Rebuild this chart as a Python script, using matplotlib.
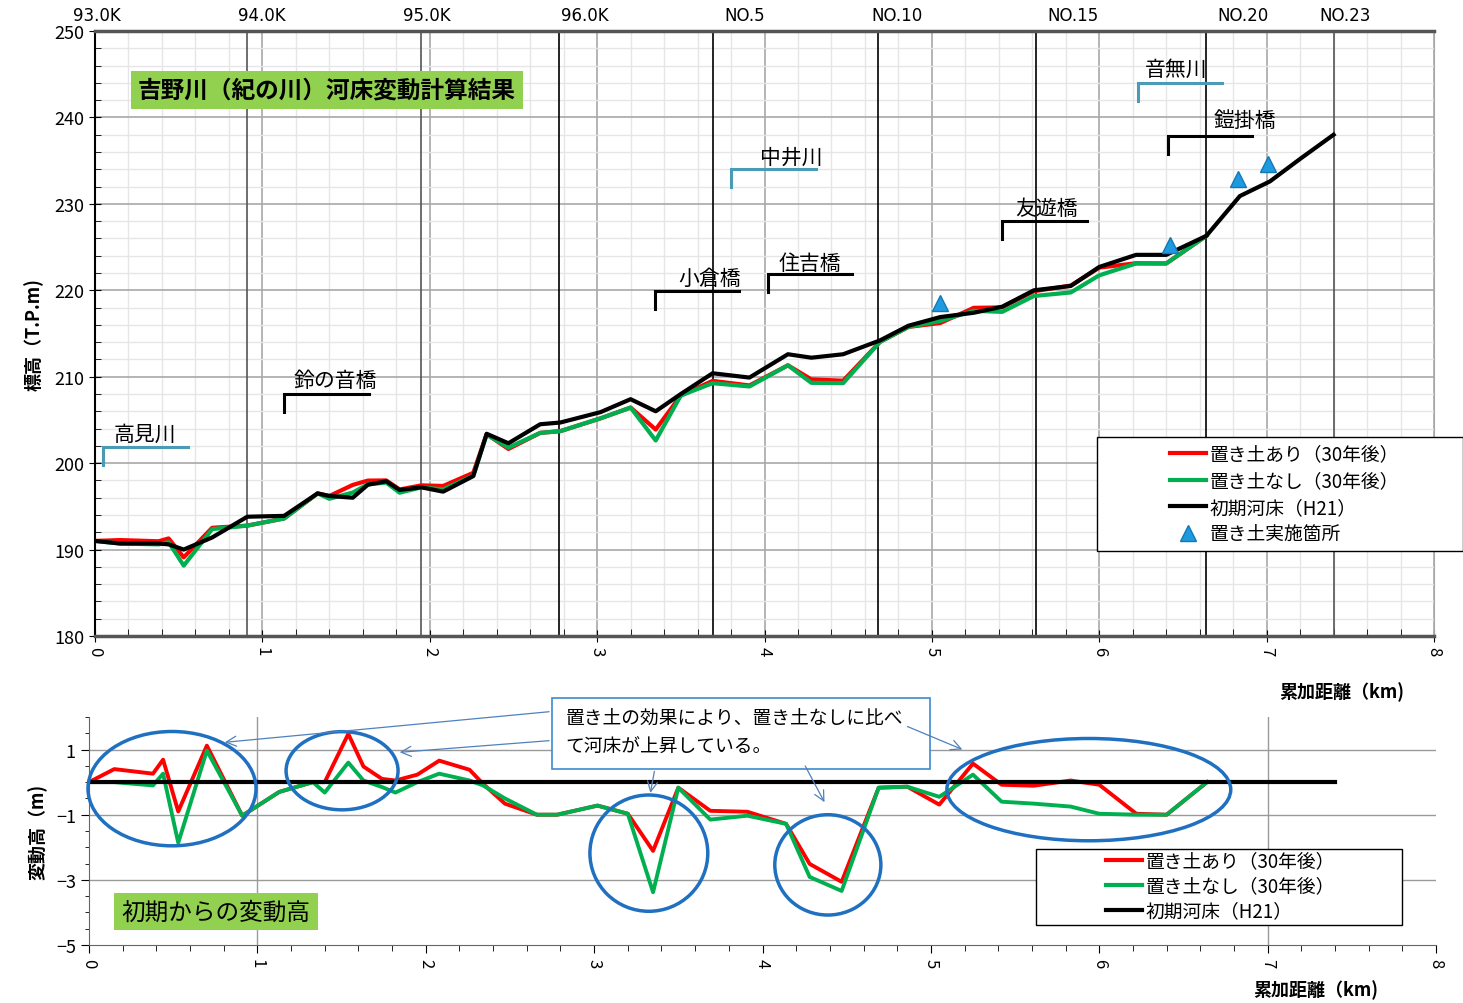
import numpy as np
import matplotlib.pyplot as plt
from matplotlib.patches import Ellipse, Rectangle
from matplotlib.lines import Line2D
from matplotlib.ticker import MultipleLocator

plt.rcParams['font.family'] = ['Noto Sans CJK JP', 'DejaVu Sans']

# cumulative distance of cross sections (km)
dist = [0.0, 0.15, 0.38, 0.44, 0.53, 0.70, 0.91, 1.13, 1.33, 1.40, 1.54, 1.63, 1.74, 1.82,
        1.95, 2.08, 2.26, 2.34, 2.47, 2.66, 2.78, 3.02, 3.20, 3.35, 3.50, 3.69, 3.91, 4.14,
        4.28, 4.47, 4.69, 4.86, 5.05, 5.25, 5.42, 5.61, 5.83, 6.00, 6.22, 6.40, 6.64,
        6.84, 7.02, 7.20, 7.40]
# initial bed elevation H21 (T.P.m)
bed_h21 = [191.0, 190.7, 190.7, 190.6, 190.0, 191.4, 193.8, 193.9, 196.5, 196.2, 196.0, 197.5,
           197.9, 196.9, 197.2, 196.7, 198.5, 203.4, 202.3, 204.5, 204.7, 205.9, 207.4, 206.0,
           208.0, 210.4, 209.9, 212.6, 212.2, 212.6, 214.2, 215.9, 216.9, 217.4, 218.1, 220.0,
           220.5, 222.7, 224.1, 224.1, 226.3, 230.9, 232.6, 235.2, 238.0]
# change after 30 years (m), up to 6.64 km
chg_with = [0.0, 0.40, 0.26, 0.69, -0.90, 1.12, -1.03, -0.30, 0.0, 0.0, 1.48, 0.48, 0.10, 0.05,
            0.23, 0.66, 0.38, -0.05, -0.66, -1.0, -1.0, -0.72, -0.97, -2.11, -0.17, -0.88, -0.91,
            -1.28, -2.51, -3.06, -0.17, -0.14, -0.69, 0.57, -0.08, -0.11, 0.05, -0.08, -0.97,
            -1.0, 0.0]
chg_without = [0.0, 0.0, -0.10, 0.26, -1.86, 0.97, -1.03, -0.30, 0.0, -0.32, 0.60, 0.05, -0.15,
               -0.32, 0.0, 0.26, 0.05, -0.10, -0.50, -1.0, -1.0, -0.72, -0.97, -3.38, -0.17,
               -1.15, -1.03, -1.28, -2.91, -3.34, -0.17, -0.14, -0.45, 0.23, -0.60, -0.66, -0.75,
               -0.97, -1.0, -1.0, 0.0]
# soil placement sites
site_x = [5.05, 6.42, 6.83, 7.01]
site_y = [218.5, 225.2, 232.9, 234.6]

# section lines and labels on top
sec_x = [0.91, 1.95, 2.77, 3.69, 4.68, 5.62, 6.64, 7.40]
sec_lbl_x = [0.012, 0.998, 1.983, 2.927, 3.883, 4.791, 5.842, 6.858, 7.467]
sec_lbl = ['93.0K', '94.0K', '95.0K', '96.0K', 'NO.5', 'NO.10', 'NO.15', 'NO.20', 'NO.23']

# bridges / tributaries
mark_names = ['高見川', '鈴の音橋', '小倉橋', '住吉橋', '中井川', '友遊橋', '音無川', '鎧掛橋']
mark_x = [0.048, 1.13, 3.345, 4.02, 3.80, 5.42, 6.23, 6.41]
mark_y = [201.9, 208.0, 219.9, 221.9, 234.0, 228.0, 244.0, 237.9]
mark_txt_x = [0.299, 1.434, 3.674, 4.271, 4.163, 5.687, 6.458, 6.870]
mark_txt_y = [203.4, 209.6, 221.4, 223.2, 235.5, 229.5, 245.6, 239.7]
mark_river = [True, False, False, False, True, False, True, False]

n = len(chg_with)
d = np.array(dist)
h = np.array(bed_h21)
red_top = h[:n] + np.array(chg_with)
green_top = h[:n] + np.array(chg_without)

RED = '#FF0000'
GREEN = '#00B050'
TEAL = '#4A9BB5'
BLUE = '#1F70C0'
W, H = 1463, 1004

fig = plt.figure(figsize=(14.63, 10.04), dpi=100)

# ---------------- top chart ----------------
ax = fig.add_axes([95 / W, 1 - 637 / H, 1339 / W, 605 / H])
ax.set_xlim(0, 8)
ax.set_ylim(180, 250)
ax.xaxis.set_major_locator(MultipleLocator(1))
ax.xaxis.set_minor_locator(MultipleLocator(0.2))
ax.yaxis.set_major_locator(MultipleLocator(10))
ax.yaxis.set_minor_locator(MultipleLocator(2))
ax.grid(which='minor', color='#E6E6E6', lw=1)
ax.grid(which='major', color='#A8A8A8', lw=1.2)
ax.set_axisbelow(True)
for s in ['top', 'bottom']:
    ax.spines[s].set_color('#555555')
    ax.spines[s].set_linewidth(2.5)
ax.spines['right'].set_color('#A8A8A8')
ax.spines['left'].set_color('black')
ax.spines['left'].set_linewidth(1.5)
ax.tick_params(axis='x', which='major', direction='inout', length=8, labelsize=12, labelrotation=-90)
ax.tick_params(axis='x', which='minor', direction='in', length=5)
ax.tick_params(axis='y', which='major', direction='inout', length=8, labelsize=13)
ax.tick_params(axis='y', which='minor', direction='in', length=4)

for i, xs in enumerate(sec_x):
    c = '#555555' if i in (0, 1, 7) else 'black'
    ax.axvline(xs, color=c, lw=1.2, zorder=1)
for xl, t in zip(sec_lbl_x, sec_lbl):
    ax.text(xl, 250.8, t, ha='center', va='bottom', fontsize=12,
            family=['Liberation Sans Narrow', 'DejaVu Sans'])

ax.plot(d[:n], red_top, color=RED, lw=3, zorder=3)
ax.plot(d[:n], green_top, color=GREEN, lw=3, zorder=4)
ax.plot(d, h, color='black', lw=3, zorder=5)
ax.plot(site_x, site_y, '^', color='#1E9BE0', mec='#1478B4', ms=11, ls='none', zorder=6)

for nm, mx, my, tx, ty, rv in zip(mark_names, mark_x, mark_y, mark_txt_x, mark_txt_y, mark_river):
    c = TEAL if rv else 'black'
    ax.plot([mx, mx, mx + 0.505], [my - 2.1, my, my], color=c, lw=2.2, zorder=6,
            solid_joinstyle='miter')
    ax.text(tx, ty, nm, ha='center', va='center', fontsize=15, zorder=7)

ax.text(1.386, 243.2, '吉野川（紀の川）河床変動計算結果', ha='center', va='center',
        fontsize=17, fontweight='bold', zorder=8,
        bbox=dict(boxstyle='square,pad=0.3', fc='#92D050', ec='none'))

ax.set_ylabel('標高（T.P.m)', fontsize=13, fontweight='bold', labelpad=8)
fig.text(1342 / W, 1 - 692 / H, '累加距離（km)', ha='center', va='center',
         fontsize=13, fontweight='bold')

# legend frame drawn separately so that it spans the original width
fig.patches.append(Rectangle((1097 / W, 1 - 552 / H), 366 / W, 114 / H, transform=fig.transFigure,
                             fc='white', ec='black', lw=1, zorder=5))
h1 = [Line2D([], [], color=RED, lw=3), Line2D([], [], color=GREEN, lw=3),
      Line2D([], [], color='black', lw=3),
      Line2D([], [], marker='^', color='#1E9BE0', mec='#1478B4', ms=11, ls='none')]
leg = fig.legend(h1, ['置き土あり（30年後）', '置き土なし（30年後）', '初期河床（H21）', '置き土実施箇所'],
                 loc='center left', bbox_to_anchor=(1170 / W, 1 - 495 / H),
                 fontsize=13.5, frameon=False, borderaxespad=0, borderpad=0,
                 handlelength=1.9, handletextpad=0.2, labelspacing=0.3)
leg.set_zorder(6)

# ---------------- bottom chart ----------------
bx = fig.add_axes([89 / W, 1 - 946 / H, 1347 / W, 228 / H])
bx.set_xlim(0, 8)
bx.set_ylim(-5, 2)
bx.set_xticks(range(9))
bx.xaxis.set_minor_locator(MultipleLocator(0.2))
bx.set_yticks([-5, -3, -1, 1])
bx.yaxis.set_minor_locator(MultipleLocator(0.5))
for s in ['top', 'right']:
    bx.spines[s].set_visible(False)
bx.spines['left'].set_color('#666666')
bx.spines['bottom'].set_color('#666666')
bx.tick_params(axis='x', which='major', direction='out', length=6, labelsize=12, labelrotation=-90)
bx.tick_params(axis='x', which='minor', direction='out', length=4)
bx.tick_params(axis='y', which='major', direction='out', length=6, labelsize=13)
bx.tick_params(axis='y', which='minor', direction='out', length=3)
for yv in [1, -1, -3]:
    bx.axhline(yv, color='#9A9A9A', lw=1, zorder=1)
for xv in [1, 7]:
    bx.axvline(xv, color='#9A9A9A', lw=1, zorder=1)

bx.plot(d[:n], chg_with, color=RED, lw=2.8, zorder=3)
bx.plot(d[:n], chg_without, color=GREEN, lw=2.8, zorder=4)
bx.plot(d, np.zeros(len(d)), color='black', lw=3, zorder=5)

# circles
ells = [(0.493, -0.2, 0.998, 3.51), (1.503, 0.35, 0.665, 2.4), (3.325, -2.18, 0.70, 3.57),
        (4.388, -2.54, 0.63, 3.08), (5.938, -0.23, 1.686, 3.14)]
for ex, ey, ew, eh in ells:
    bx.add_patch(Ellipse((ex, ey), ew, eh, fill=False, ec=BLUE, lw=2.5, zorder=6, clip_on=False))

# callout
bx.add_patch(Rectangle((2.749, 0.415), 4.994 - 2.749, 2.57 - 0.415, fc='white', ec='#3D8BD0',
                       lw=1.2, zorder=7, clip_on=False))
bx.text(2.83, 1.95, '置き土の効果により、置き土なしに比べ', fontsize=13.5, va='center', zorder=8)
bx.text(2.83, 1.09, 'て河床が上昇している。', fontsize=13.5, va='center', zorder=8)
arrows = [((2.749, 2.17), (0.790, 1.215)), ((2.749, 1.28), (1.829, 0.91)),
          ((3.361, 0.415), (3.331, -0.415)), ((4.246, 0.57), (4.376, -0.69)),
          ((4.846, 1.74), (5.202, 0.97))]
for (x0, y0), (x1, y1) in arrows:
    bx.annotate('', xy=(x1, y1), xytext=(x0, y0), zorder=7, annotation_clip=False,
                arrowprops=dict(arrowstyle='->', color='#4F81BD', lw=0.9, mutation_scale=18))

bx.text(0.754, -3.98, '初期からの変動高', ha='center', va='center', fontsize=17, zorder=8,
        bbox=dict(boxstyle='square,pad=0.3', fc='#92D050', ec='none'))

bx.set_ylabel('変動高（m)', fontsize=13, fontweight='bold', labelpad=6)
fig.text(1316 / W, 1 - 990 / H, '累加距離（km)', ha='center', va='center',
         fontsize=13, fontweight='bold')

fig.patches.append(Rectangle((1036 / W, 1 - 926 / H), 366 / W, 76 / H, transform=fig.transFigure,
                             fc='white', ec='black', lw=1, zorder=5))
h2 = [Line2D([], [], color=RED, lw=3), Line2D([], [], color=GREEN, lw=3),
      Line2D([], [], color='black', lw=3)]
leg2 = fig.legend(h2, ['置き土あり（30年後）', '置き土なし（30年後）', '初期河床（H21）'],
                  loc='center left', bbox_to_anchor=(1106 / W, 1 - 887 / H),
                  fontsize=13.5, frameon=False, borderaxespad=0, borderpad=0,
                  handlelength=1.9, handletextpad=0.2, labelspacing=0.22)
leg2.set_zorder(6)

fig.savefig('out.png', dpi=100)
